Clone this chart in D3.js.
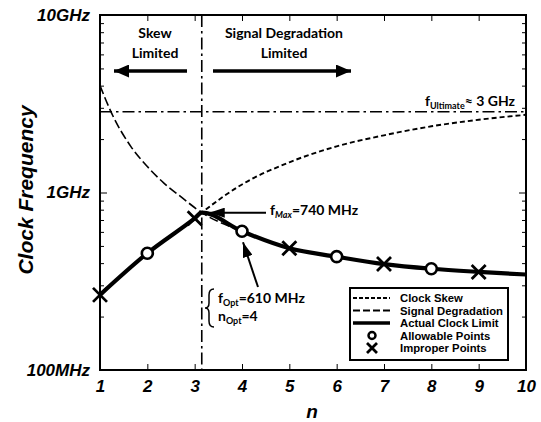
<!DOCTYPE html>
<html>
<head>
<meta charset="utf-8">
<script src="https://cdn.jsdelivr.net/npm/d3@7"></script>
<style>
body { margin: 0; background: #fff; }
.axis text { font-family: "Liberation Sans", Arial, sans-serif; font-weight: bold; font-style: italic; fill: #000; }
.axis path, .axis line { stroke: #000; }
.note { font-family: Lato, "DejaVu Sans", sans-serif; font-weight: bold; fill: #000; }
.legend text { font-family: "Liberation Sans", Arial, sans-serif; font-weight: bold; font-size: 11.3px; fill: #000; }
</style>
</head>
<body>
<div id="chart"></div>
<script>
const width = 541;
const height = 422;

// axis ticks
const nTicks = [1, 2, 3, 4, 5, 6, 7, 8, 9, 10];
const freqTicks = [100, 1000, 10000];   // MHz
const freqLabels = ['100MHz', '1GHz', '10GHz'];

// clock skew limit (rising), MHz
const skewN = [1, 2, 3, 3.15, 4, 5, 6, 7, 8, 9, 10];
const skewF = [265, 455, 715, 770, 1110, 1480, 1820, 2100, 2360, 2570, 2740];

// signal degradation limit (falling), MHz
const degrN = [1, 1.25, 1.65, 2, 2.35, 2.7, 3.15, 4, 5, 6, 7, 8, 9, 10];
const degrF = [4000, 2780, 1820, 1400, 1130, 950, 770, 605, 485, 435, 395, 372, 357, 345];

const nMax = 3.15;
const fMax = 770;
const fUltimate = 2850;

const allowableN = [2, 4, 6, 8];
const allowableF = [455, 605, 435, 372];
const improperN = [1, 3, 5, 7, 9];
const improperF = [265, 715, 485, 395, 357];

const legendLabels = ['Clock Skew', 'Signal Degradation', 'Actual Clock Limit', 'Allowable Points', 'Improper Points'];

const x = d3.scaleLinear().domain([1, 10]).range([100, 526]);
const y = d3.scaleLog().domain([100, 10000]).range([370, 15]);

const svg = d3.select('#chart')
    .append('svg')
    .attr('width', width)
    .attr('height', height);

const defs = svg.append('defs');
function arrowMarker(id, w, h) {
    defs.append('marker')
        .attr('id', id)
        .attr('markerUnits', 'userSpaceOnUse')
        .attr('viewBox', `0 0 ${w} ${h}`)
        .attr('refX', w).attr('refY', h / 2)
        .attr('markerWidth', w).attr('markerHeight', h)
        .attr('orient', 'auto')
        .append('path')
        .attr('d', `M0,0 L${w},${h / 2} L0,${h} Z`)
        .attr('fill', '#000');
}
arrowMarker('bigHead', 15, 13);
arrowMarker('smallHead', 15, 10);

// minor log ticks
const minor = [];
[100, 1000].forEach(d => { for (let k = 2; k <= 9; k++) minor.push(d * k); });

// axes
svg.append('g').attr('class', 'axis')
    .attr('transform', 'translate(0,370)')
    .call(d3.axisBottom(x).tickValues(nTicks).tickSizeInner(-6).tickSizeOuter(0).tickPadding(10).tickFormat(d3.format('d')))
    .call(g => g.selectAll('text').attr('font-size', 17));
svg.append('g').attr('class', 'axis')
    .attr('transform', 'translate(0,15)')
    .call(d3.axisTop(x).tickValues(nTicks).tickSizeInner(-6).tickSizeOuter(0).tickFormat(''));
svg.append('g').attr('class', 'axis')
    .attr('transform', 'translate(100,0)')
    .call(d3.axisLeft(y).tickValues(freqTicks).tickSizeInner(-7).tickSizeOuter(0).tickPadding(10)
        .tickFormat((d, i) => freqLabels[i]))
    .call(g => g.selectAll('text').attr('font-size', 17));
svg.append('g').attr('class', 'axis')
    .attr('transform', 'translate(100,0)')
    .call(d3.axisLeft(y).tickValues(minor).tickSizeInner(-4).tickSizeOuter(0).tickFormat(''));
svg.append('g').attr('class', 'axis')
    .attr('transform', 'translate(526,0)')
    .call(d3.axisRight(y).tickValues(freqTicks).tickSizeInner(-7).tickSizeOuter(0).tickFormat(''));
svg.append('g').attr('class', 'axis')
    .attr('transform', 'translate(526,0)')
    .call(d3.axisRight(y).tickValues(minor).tickSizeInner(-4).tickSizeOuter(0).tickFormat(''));
svg.selectAll('.axis path.domain').remove();

svg.append('rect')
    .attr('x', x(1)).attr('y', y(10000))
    .attr('width', x(10) - x(1)).attr('height', y(100) - y(10000))
    .attr('fill', 'none').attr('stroke', '#000').attr('stroke-width', 2);

// axis titles
svg.append('text')
    .attr('transform', 'translate(33,190) rotate(-90)')
    .attr('text-anchor', 'middle')
    .attr('font-family', '"Liberation Sans", Arial, sans-serif')
    .attr('font-weight', 'bold').attr('font-style', 'italic')
    .attr('font-size', 21)
    .text('Clock Frequency');
svg.append('text')
    .attr('x', 312).attr('y', 418)
    .attr('text-anchor', 'middle')
    .attr('font-family', '"Liberation Sans", Arial, sans-serif')
    .attr('font-weight', 'bold').attr('font-style', 'italic')
    .attr('font-size', 19)
    .text('n');

// dash-dot guides
svg.append('line')
    .attr('x1', x(nMax)).attr('x2', x(nMax))
    .attr('y1', y(10000)).attr('y2', y(100))
    .attr('stroke', '#000').attr('stroke-width', 1.6)
    .attr('stroke-dasharray', '12,4,2.5,4');
svg.append('line')
    .attr('x1', x(1)).attr('x2', x(10))
    .attr('y1', y(fUltimate)).attr('y2', y(fUltimate))
    .attr('stroke', '#000').attr('stroke-width', 1.6)
    .attr('stroke-dasharray', '12,4,2.5,4');

const line = d3.line()
    .x(d => x(d[0]))
    .y(d => y(d[1]))
    .curve(d3.curveMonotoneX);

const skew = skewN.map((n, i) => [n, skewF[i]]);
const degr = degrN.map((n, i) => [n, degrF[i]]);
const actual = skew.filter(d => d[0] < nMax)
    .concat([[nMax, fMax]])
    .concat(degr.filter(d => d[0] > nMax));

svg.append('path')
    .datum(actual)
    .attr('d', line)
    .attr('fill', 'none')
    .attr('stroke', '#000')
    .attr('stroke-width', 4.2)
    .attr('stroke-linejoin', 'round');

svg.append('path')
    .datum(degr)
    .attr('d', line)
    .attr('fill', 'none')
    .attr('stroke', '#000')
    .attr('stroke-width', 1.6)
    .attr('stroke-dasharray', '9,3.5');

svg.append('path')
    .datum(skew)
    .attr('d', line)
    .attr('fill', 'none')
    .attr('stroke', '#000')
    .attr('stroke-width', 1.9)
    .attr('stroke-dasharray', '5,3');

// points
svg.selectAll('.allow')
    .data(allowableN)
    .enter().append('circle')
    .attr('class', 'allow')
    .attr('cx', d => x(d))
    .attr('cy', (d, i) => y(allowableF[i]))
    .attr('r', 5.5)
    .attr('fill', '#fff')
    .attr('stroke', '#000')
    .attr('stroke-width', 2.6);

const xs = 7;
svg.selectAll('.improper')
    .data(improperN)
    .enter().append('path')
    .attr('class', 'improper')
    .attr('transform', (d, i) => `translate(${x(d)},${y(improperF[i])})`)
    .attr('d', `M${-xs},${-xs}L${xs},${xs}M${-xs},${xs}L${xs},${-xs}`)
    .attr('stroke', '#000')
    .attr('stroke-width', 2.8)
    .attr('fill', 'none');

// region notes
const notes = svg.append('g').attr('class', 'note').attr('font-size', 14).attr('text-anchor', 'middle');
notes.append('text').attr('x', 155).attr('y', 38).text('Skew');
notes.append('text').attr('x', 155).attr('y', 58).text('Limited');
notes.append('text').attr('x', 284).attr('y', 38).text('Signal Degradation');
notes.append('text').attr('x', 284).attr('y', 58).text('Limited');

svg.append('line')
    .attr('x1', 187).attr('y1', 71).attr('x2', 114).attr('y2', 71)
    .attr('stroke', '#000').attr('stroke-width', 3.5)
    .attr('marker-end', 'url(#bigHead)');
svg.append('line')
    .attr('x1', 213).attr('y1', 71).attr('x2', 351).attr('y2', 71)
    .attr('stroke', '#000').attr('stroke-width', 3.5)
    .attr('marker-end', 'url(#bigHead)');

// f_Ultimate
const fu = svg.append('text').attr('class', 'note').attr('font-size', 14)
    .attr('x', 515).attr('y', 106).attr('text-anchor', 'end');
fu.append('tspan').text('f');
fu.append('tspan').attr('font-size', 9).attr('dy', 3).text('Ultimate');
fu.append('tspan').attr('dy', -3).text('\u2248 3 GHz');

// f_Max
svg.append('line')
    .attr('x1', 266).attr('y1', y(fMax)).attr('x2', x(nMax) + 8).attr('y2', y(fMax))
    .attr('stroke', '#000').attr('stroke-width', 2)
    .attr('marker-end', 'url(#smallHead)');
const fm = svg.append('text').attr('class', 'note').attr('font-size', 14)
    .attr('x', 270).attr('y', 215);
fm.append('tspan').text('f');
fm.append('tspan').attr('font-size', 9).attr('font-style', 'italic').attr('dy', 3).text('Max');
fm.append('tspan').attr('dy', -3).text('=740 MHz');

// f_Opt
svg.append('line')
    .attr('x1', 258).attr('y1', 287).attr('x2', x(4) + 1).attr('y2', y(605) + 11)
    .attr('stroke', '#000').attr('stroke-width', 2)
    .attr('marker-end', 'url(#smallHead)');
svg.append('path')
    .attr('d', 'M214,289 Q209,289 209,295 L209,303 Q209,308 205,308 Q209,308 209,313 L209,321 Q209,327 214,327')
    .attr('fill', 'none').attr('stroke', '#000').attr('stroke-width', 1.5);
const fo = svg.append('text').attr('class', 'note').attr('font-size', 14)
    .attr('x', 218).attr('y', 303);
fo.append('tspan').text('f');
fo.append('tspan').attr('font-size', 9).attr('dy', 3).text('Opt');
fo.append('tspan').attr('dy', -3).text('=610 MHz');
const no = svg.append('text').attr('class', 'note').attr('font-size', 14)
    .attr('x', 218).attr('y', 321);
no.append('tspan').text('n');
no.append('tspan').attr('font-size', 9).attr('dy', 3).text('Opt');
no.append('tspan').attr('dy', -3).text('=4');

// legend
const legend = svg.append('g').attr('class', 'legend');
legend.append('rect')
    .attr('x', 350).attr('y', 288).attr('width', 158).attr('height', 72)
    .attr('fill', '#fff').attr('stroke', '#000').attr('stroke-width', 2);
const rows = legend.selectAll('.row')
    .data(legendLabels)
    .enter().append('g')
    .attr('class', 'row')
    .attr('transform', (d, i) => `translate(0,${298 + i * 12.5})`);
rows.append('text').attr('x', 400).attr('y', 4).text(d => d);
rows.filter((d, i) => i === 0).append('line')
    .attr('x1', 353).attr('x2', 390).attr('stroke', '#000').attr('stroke-width', 1.8).attr('stroke-dasharray', '4,2');
rows.filter((d, i) => i === 1).append('line')
    .attr('x1', 353).attr('x2', 390).attr('stroke', '#000').attr('stroke-width', 1.8).attr('stroke-dasharray', '7,3');
rows.filter((d, i) => i === 2).append('line')
    .attr('x1', 353).attr('x2', 390).attr('stroke', '#000').attr('stroke-width', 3.5);
rows.filter((d, i) => i === 3).append('circle')
    .attr('cx', 372).attr('r', 3.5).attr('fill', '#fff').attr('stroke', '#000').attr('stroke-width', 2.5);
rows.filter((d, i) => i === 4).append('path')
    .attr('transform', 'translate(372,0)')
    .attr('d', 'M-5,-5L5,5M-5,5L5,-5')
    .attr('stroke', '#000').attr('stroke-width', 2.8);
</script>
</body>
</html>
